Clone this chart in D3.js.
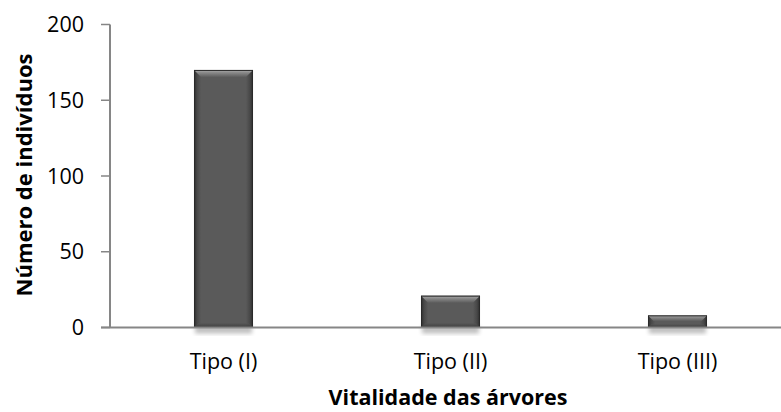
<!DOCTYPE html>
<html>
<head>
<meta charset="utf-8">
<script src="https://cdn.jsdelivr.net/npm/d3@7/dist/d3.min.js"></script>
<style>
  html, body { margin: 0; padding: 0; background: #fff; }
  svg { display: block; }
</style>
</head>
<body>
<svg id="chart" width="781" height="412"></svg>
<script>
// Tree vitality classes and number of individuals in each
const categories = ["Tipo (I)", "Tipo (II)", "Tipo (III)"];
const individuals = [170, 21, 8];
const yTicks = [0, 50, 100, 150, 200];

const W = 781, H = 412;
const svg = d3.select("#chart");
const font = "'Open Sans', 'Noto Sans', sans-serif";

const plotLeft = 110, plotTop = 24.5, plotBottom = 327.5, plotRight = 791;

const x = d3.scaleBand().domain(categories).range([plotLeft, plotRight]).padding(0);
const y = d3.scaleLinear().domain([0, 200]).range([plotBottom, plotTop]);
const barW = x.bandwidth() * 0.26;

const defs = svg.append("defs");
// horizontal shading: darker rims at the left/right edges
const gH = defs.append("linearGradient").attr("id", "barH").attr("x1", 0).attr("x2", 1).attr("y1", 0).attr("y2", 0);
[[0, "#2a2a2a"], [0.05, "#474747"], [0.12, "#5a5a5a"], [0.88, "#5a5a5a"], [0.95, "#474747"], [1, "#2a2a2a"]]
  .forEach(([o, c]) => gH.append("stop").attr("offset", o).attr("stop-color", c));
// top bevel: lighter towards the top edge
const gT = defs.append("linearGradient").attr("id", "barTop").attr("x1", 0).attr("x2", 0).attr("y1", 0).attr("y2", 1);
[[0, "#b0b0b0"], [0.35, "#8c8c8c"], [1, "#5e5e5e"]]
  .forEach(([o, c]) => gT.append("stop").attr("offset", o).attr("stop-color", c));
const gB = defs.append("linearGradient").attr("id", "barBot").attr("x1", 0).attr("x2", 0).attr("y1", 0).attr("y2", 1);
[[0, "#555555"], [1, "#3a3a3a"]]
  .forEach(([o, c]) => gB.append("stop").attr("offset", o).attr("stop-color", c));
const shadow = defs.append("filter").attr("id", "shadow").attr("x", "-20%").attr("y", "-20%").attr("width", "140%").attr("height", "140%");
shadow.append("feGaussianBlur").attr("stdDeviation", 2.2);

// axes
const axisColor = "#868686";
svg.append("line").attr("x1", plotLeft).attr("x2", plotLeft).attr("y1", y(200)).attr("y2", y(0))
  .attr("stroke", axisColor).attr("stroke-width", 2);
svg.selectAll(".ytick").data(yTicks).join("line")
  .attr("x1", plotLeft - 9).attr("x2", plotLeft).attr("y1", d => y(d)).attr("y2", d => y(d))
  .attr("stroke", axisColor).attr("stroke-width", 1.5);
svg.selectAll(".ylab").data(yTicks).join("text")
  .attr("x", 84).attr("y", d => y(d)).attr("dy", "0.36em")
  .attr("text-anchor", "end").attr("font-family", font).attr("font-size", 21.5).attr("fill", "#000")
  .text(d => d);

// bars
const bars = svg.append("g");
categories.forEach((c, i) => {
  const v = individuals[i];
  const x0 = x(c) + (x.bandwidth() - barW) / 2, x1 = x0 + barW;
  const y0 = y(v), y1 = y(0);
  const bev = Math.min(7, (y1 - y0) / 2.2);
  const g = bars.append("g");
  g.append("rect").attr("x", x0 + 1).attr("y", y1 - 2).attr("width", barW - 2).attr("height", 8)
    .attr("fill", "#000").attr("opacity", 0.25).attr("filter", "url(#shadow)");
  g.append("rect").attr("x", x0).attr("y", y0).attr("width", barW).attr("height", y1 - y0)
    .attr("fill", "url(#barH)");
  g.append("path")
    .attr("d", `M${x0},${y0} L${x1},${y0} L${x1 - bev},${y0 + bev} L${x0 + bev},${y0 + bev} Z`)
    .attr("fill", "url(#barTop)");
  g.append("path")
    .attr("d", `M${x0},${y1} L${x1},${y1} L${x1 - bev * 0.6},${y1 - bev * 0.6} L${x0 + bev * 0.6},${y1 - bev * 0.6} Z`)
    .attr("fill", "url(#barBot)").attr("opacity", 0.8);
  g.append("rect").attr("x", x0 + 0.5).attr("y", y0 + 0.5).attr("width", barW - 1).attr("height", y1 - y0 - 1)
    .attr("fill", "none").attr("stroke", "#2a2a2a").attr("stroke-width", 1);
});

// x axis line drawn over bar bottoms
svg.append("line").attr("x1", plotLeft - 9).attr("x2", W).attr("y1", y(0)).attr("y2", y(0))
  .attr("stroke", axisColor).attr("stroke-width", 2);

svg.selectAll(".xlab").data(categories).join("text")
  .attr("x", d => x(d) + x.bandwidth() / 2).attr("y", 369)
  .attr("text-anchor", "middle").attr("font-family", font).attr("font-size", 21.5).attr("fill", "#000")
  .text(d => d);

// titles
svg.append("text").attr("x", 448).attr("y", 405).attr("text-anchor", "middle")
  .attr("font-family", font).attr("font-size", 21.5).attr("font-weight", "bold").attr("fill", "#000")
  .text("Vitalidade das árvores");
svg.append("text").attr("transform", "translate(32,175) rotate(-90)").attr("text-anchor", "middle")
  .attr("font-family", font).attr("font-size", 22).attr("font-weight", "bold").attr("fill", "#000")
  .text("Número de indivíduos");
</script>
</body>
</html>
